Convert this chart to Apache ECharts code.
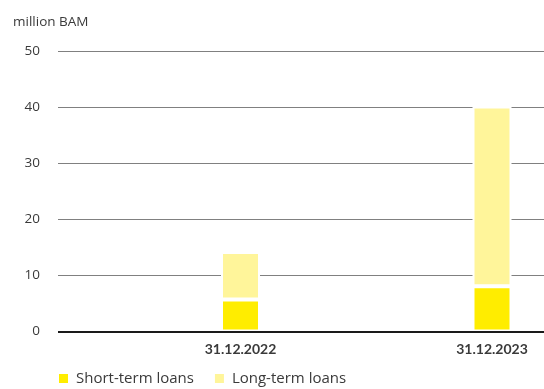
<!DOCTYPE html>
<html>
<head>
<meta charset="utf-8">
<script src="https://cdn.jsdelivr.net/npm/echarts@6/dist/echarts.min.js"></script>
<style>
  html, body { margin: 0; padding: 0; background: #fff; }
  #chart { width: 544px; height: 389px; }
</style>
</head>
<body>
<div id="chart"></div>
<script>
// Loan balances at year end, million BAM
const categories = ['31.12.2022', '31.12.2023'];
const shortTermLoans = [5.7, 8.1];
const longTermLoans = [8.5, 32.1];
const yTicks = [0, 10, 20, 30, 40, 50];

const FONT = '"Open Sans", Lato, sans-serif';
const BOLD_FONT = 'Lato, "Open Sans", sans-serif';
const TEXT = '#3a3a3a';
const Y_MIN = yTicks[0];
const Y_MAX = yTicks[yTicks.length - 1];
const PLOT_TOP = 51.5;
const PLOT_BOTTOM = 57.5;

const chart = echarts.init(document.getElementById('chart'), null, { renderer: 'canvas' });
chart.setOption({
  animation: false,
  backgroundColor: '#fff',
  textStyle: { fontFamily: FONT },
  title: {
    text: 'million BAM',
    left: 8,
    top: 10,
    textStyle: { fontFamily: FONT, fontSize: 13.5, fontWeight: 'normal', color: TEXT }
  },
  // grid 0 carries the value scale and grid lines;
  // grid 1 runs from the first date to the second one (no boundary gap)
  grid: [
    { left: 58, right: 0, top: PLOT_TOP, bottom: PLOT_BOTTOM },
    { left: 240.5, width: 251.5, top: PLOT_TOP, bottom: PLOT_BOTTOM }
  ],
  legend: {
    left: 52,
    top: 366,
    itemWidth: 11,
    itemHeight: 11,
    itemGap: 19,
    icon: 'rect',
    textStyle: { fontFamily: FONT, fontSize: 15, color: TEXT, padding: [0, 0, 0, 2] },
    data: ['Short-term loans', 'Long-term loans']
  },
  xAxis: [
    {
      gridIndex: 0,
      type: 'category',
      data: categories,
      show: false
    },
    {
      gridIndex: 1,
      type: 'category',
      data: categories,
      boundaryGap: false,
      axisTick: { show: false },
      axisLine: { show: false },
      splitLine: { show: false },
      axisLabel: {
        margin: 11,
        fontFamily: BOLD_FONT,
        fontSize: 14,
        fontWeight: 'bold',
        color: TEXT,
        showMinLabel: true,
        showMaxLabel: true
      }
    }
  ],
  yAxis: [
    {
      gridIndex: 0,
      type: 'value',
      min: Y_MIN,
      max: Y_MAX,
      interval: 10,
      axisLine: { show: false },
      axisTick: { show: false },
      axisLabel: { margin: 18, fontFamily: FONT, fontSize: 13.5, color: TEXT },
      splitLine: { lineStyle: { color: '#808080', width: 1 } }
    },
    {
      gridIndex: 1,
      type: 'value',
      min: Y_MIN,
      max: Y_MAX,
      interval: 10,
      show: false,
      splitLine: { show: false }
    }
  ],
  series: [
    {
      name: 'Short-term loans',
      type: 'bar',
      stack: 'loans',
      xAxisIndex: 1,
      yAxisIndex: 1,
      clip: false,
      barWidth: 39,
      itemStyle: { color: '#FFED00', borderColor: '#fff', borderWidth: 2 },
      data: shortTermLoans,
      z: 2
    },
    {
      name: 'Long-term loans',
      type: 'bar',
      stack: 'loans',
      xAxisIndex: 1,
      yAxisIndex: 1,
      clip: false,
      barWidth: 39,
      itemStyle: { color: '#FFF59A', borderColor: '#fff', borderWidth: 2 },
      data: longTermLoans,
      z: 2
    },
    {
      // baseline at zero across the whole plot
      type: 'line',
      xAxisIndex: 0,
      yAxisIndex: 0,
      silent: true,
      symbol: 'none',
      data: [],
      markLine: {
        silent: true,
        symbol: 'none',
        label: { show: false },
        lineStyle: { color: '#1a1a1a', width: 2, type: 'solid' },
        data: [{ yAxis: 0 }]
      },
      z: 5
    }
  ]
});
</script>
</body>
</html>
